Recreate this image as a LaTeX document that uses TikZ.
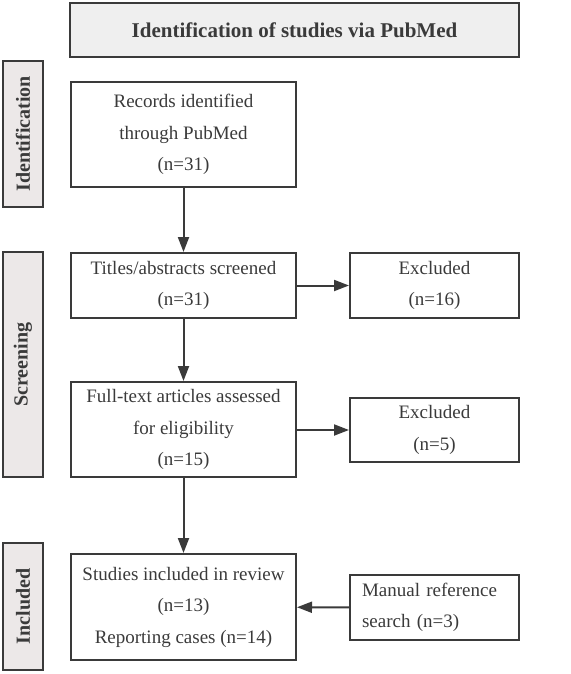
\documentclass[tikz,border=0pt]{standalone}
\usepackage{fontspec}
\setmainfont{Liberation Serif}
\usetikzlibrary{arrows.meta}

\definecolor{edge}{HTML}{3A3A3A}
\definecolor{headfill}{HTML}{EFEFEF}
\definecolor{sidefill}{HTML}{ECE8E8}

\tikzset{
  box/.style={draw=edge, line width=2pt, text=edge, align=center, inner sep=0pt,
    font=\fontsize{19}{31.5}\selectfont},
  phase/.style={draw=edge, line width=2pt, fill=sidefill, text=edge, inner sep=0pt,
    rotate=90, minimum height=40pt, font=\fontsize{20}{24}\selectfont\bfseries},
  flow/.style={draw=edge, line width=2pt, -{Triangle[length=15pt,width=11pt]}}
}

\begin{document}
\begin{tikzpicture}[x=1pt, y=-1pt]
\useasboundingbox (0,0) rectangle (570,674);
% Header
\node[box, fill=headfill, minimum width=449pt, minimum height=54pt,
  font=\fontsize{21}{24}\selectfont\bfseries] (head) at (294.5,30) {Identification of studies via PubMed};
% Phase labels on the left
\node[phase, minimum width=146pt] (idlab)  at (23,134)   {Identification};
\node[phase, minimum width=225pt] (scrlab) at (23,364.5) {Screening};
\node[phase, minimum width=127pt] (inclab) at (23,606.5) {Included};
% --- Main column ---
\node[box, minimum width=225pt, minimum height=105pt] (rec)  at (183.5,134.5) {Records identified\\through PubMed\\(n=31)};
\node[box, minimum width=225pt, minimum height=65pt]  (scr)  at (183.5,285.5) {Titles/abstracts screened\\(n=31)};
\node[box, minimum width=225pt, minimum height=95pt]  (full) at (183.5,429.5) {Full-text articles assessed\\for eligibility\\(n=15)};
\node[box, minimum width=225pt, minimum height=106pt] (inc)  at (183.5,607)   {Studies included in review\\(n=13)\\Reporting cases (n=14)};
% --- Side column ---
\node[box, minimum width=169pt, minimum height=65pt] (exc1) at (434.5,285.5) {Excluded\\(n=16)};
\node[box, minimum width=169pt, minimum height=64pt] (exc2) at (434.5,430)   {Excluded\\(n=5)};
\node[box, align=left, text width=145pt, inner xsep=12pt, minimum height=65pt] (man) at (434.5,607.5) {Manual reference\\search (n=3)};
% Arrows
\draw[flow] (rec)  -- (scr);
\draw[flow] (scr)  -- (full);
\draw[flow] (full) -- (inc);
\draw[flow] (scr)  -- (exc1);
\draw[flow] (full.east |- exc2.west) -- (exc2.west);
\draw[flow] (man)  -- (inc);
\end{tikzpicture}
\end{document}
